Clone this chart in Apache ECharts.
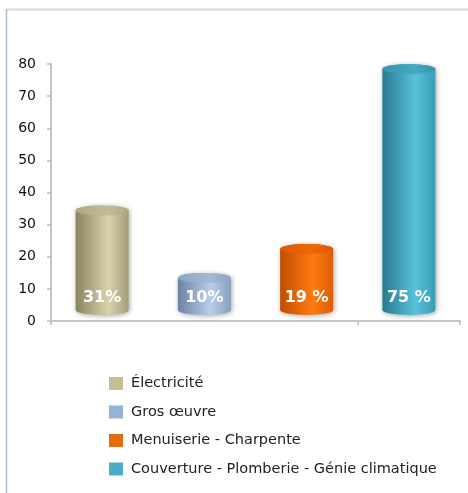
<!DOCTYPE html>
<html><head><meta charset="utf-8">
<script src="https://cdn.jsdelivr.net/npm/echarts@6/dist/echarts.min.js"></script>
<style>html,body{margin:0;padding:0;background:#fff}#c{width:468px;height:493px}</style>
</head><body><div id="c"></div>
<script>
const categories = ['Électricité', 'Gros œuvre', 'Menuiserie - Charpente', 'Couverture - Plomberie - Génie climatique'];
const values = [31, 10, 19, 75];
const valueLabels = ['31%', '10%', '19 %', '75 %'];
const yTicks = [0, 10, 20, 30, 40, 50, 60, 70, 80];
const legendColors = ['#c4bd97', '#95b3d7', '#e46c0a', '#4bacc6'];
const cylColors = [
  {dark:'#8a8562', light:'#d8d3ab', right:'#a39d7a', top:'#aea984', topHi:'#c2bd98'},
  {dark:'#6a84a6', light:'#b8cde8', right:'#879fc0', top:'#8ea5c5', topHi:'#a4b9d6'},
  {dark:'#c04d00', light:'#ff7b12', right:'#dc5e00', top:'#d95a00', topHi:'#f06800'},
  {dark:'#287a90', light:'#58c1db', right:'#3a9cb5', top:'#3794ad', topHi:'#45a9c3'}
];

const chart = echarts.init(document.getElementById('c'));
const DEPTH = 11, RX = 26.5, RY = 5;

function renderCyl(idx) {
  return function(params, api) {
    const base = api.coord([idx, 0]);
    const top = api.coord([idx, api.value(1)]);
    const cx = base[0];
    const yb = base[1] - DEPTH, yt = top[1] - DEPTH;
    const c = cylColors[idx];
    const grad = new echarts.graphic.LinearGradient(0, 0, 1, 0, [
      {offset: 0, color: c.dark}, {offset: 0.62, color: c.light}, {offset: 1, color: c.right}
    ]);
    const l = cx - RX, r = cx + RX;
    const body = `M${l} ${yt} L${l} ${yb} A${RX} ${RY} 0 0 0 ${r} ${yb} L${r} ${yt} A${RX} ${RY} 0 0 0 ${l} ${yt} Z`;
    const topPath = `M${l} ${yt} A${RX} ${RY} 0 0 0 ${r} ${yt} A${RX} ${RY} 0 0 0 ${l} ${yt} Z`;
    return {
      type: 'group',
      children: [
        {type: 'path', shape: {pathData: body}, style: {fill: grad, shadowBlur: 5, shadowColor: 'rgba(0,0,0,0.35)', shadowOffsetX: 1, shadowOffsetY: 1}},
        {type: 'path', shape: {pathData: topPath}, style: {fill: new echarts.graphic.LinearGradient(0, 0, 1, 0, [
          {offset: 0, color: c.top}, {offset: 0.6, color: c.topHi}, {offset: 1, color: c.top}])}},
        {type: 'text', x: cx, y: yb - 12.5, style: {text: valueLabels[idx], fill: '#fff', font: 'bold 16px "DejaVu Sans"', align: 'center', verticalAlign: 'middle'}}
      ]
    };
  };
}

const series = categories.map((name, i) => ({
  name: name,
  type: 'custom',
  renderItem: renderCyl(i),
  itemStyle: {color: legendColors[i]},
  data: [[i, values[i]]],
  encode: {x: 0, y: 1}
}));

chart.setOption({
  animation: false,
  grid: {left: 51, right: 8, top: 64, height: 257},
  xAxis: {
    type: 'category', data: categories, boundaryGap: true,
    axisLine: {lineStyle: {color: '#c6c6c6', width: 2}},
    axisTick: {show: true, length: 4, lineStyle: {color: '#bdbdbd', width: 1.5}},
    axisLabel: {show: false}, splitLine: {show: false}
  },
  yAxis: {
    type: 'value', min: yTicks[0], max: yTicks[yTicks.length - 1], interval: 10,
    axisLine: {show: true, lineStyle: {color: '#c6c6c6', width: 2}},
    axisTick: {show: true, length: 4, lineStyle: {color: '#bdbdbd', width: 1.5}},
    axisLabel: {color: '#111', fontSize: 14, fontFamily: 'DejaVu Sans', margin: 15},
    splitLine: {show: false}
  },
  legend: {
    orient: 'vertical', left: 104, top: 371, itemWidth: 14, itemHeight: 13, itemGap: 13.5,
    icon: 'rect', textStyle: {color: '#222', fontSize: 14.5, fontFamily: 'DejaVu Sans', padding: [0, 0, 0, 3]},
    data: categories
  },
  graphic: [
    {type: 'line', shape: {x1: 6, y1: 9.5, x2: 468, y2: 9.5}, style: {stroke: '#cfd9e0', lineWidth: 2}},
    {type: 'line', shape: {x1: 6.5, y1: 9, x2: 6.5, y2: 493}, style: {stroke: '#a9bfcc', lineWidth: 1.5}}
  ],
  series: series
});
</script></body></html>
